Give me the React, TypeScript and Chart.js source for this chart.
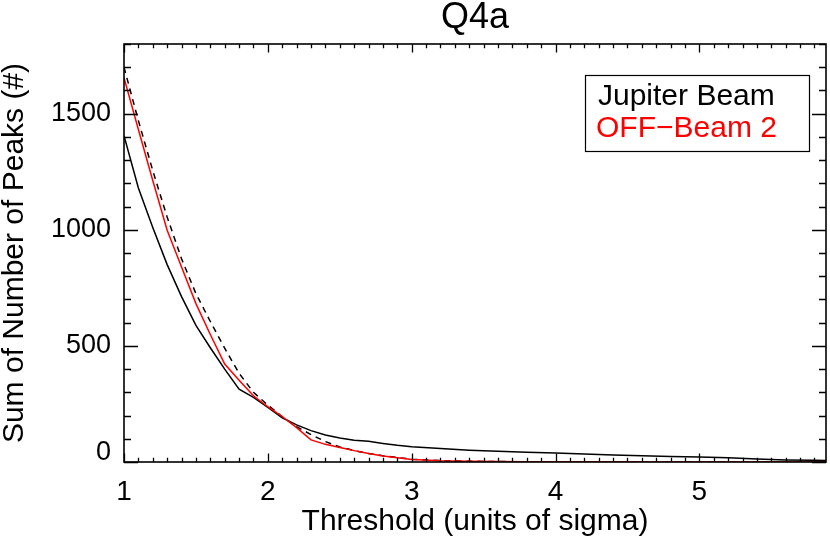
import React, { useEffect, useRef } from 'react';
import { Chart, registerables } from 'chart.js';

Chart.register(...registerables);

// ---------- data ----------
const chartTitle = 'Q4a';
const xAxisTitle = 'Threshold (units of sigma)';
const yAxisTitle = 'Sum of Number of Peaks (#)';

const thresholds = [
  1.0, 1.1, 1.2, 1.3, 1.4, 1.5, 1.6, 1.7, 1.8, 1.9, 2.0,
  2.1, 2.2, 2.3, 2.4, 2.5, 2.6, 2.7, 2.8, 2.9, 3.0,
  3.2, 3.4, 3.6, 3.8, 4.0, 4.2, 4.4, 4.6, 4.8, 5.0,
  5.2, 5.4, 5.6, 5.8, 5.88,
];

const jupiterBeam = [
  1405, 1180, 1010, 850, 712, 588, 492, 400, 314, 278, 235,
  190, 160, 135, 116, 103, 94, 89, 80, 72, 66,
  58, 51, 46, 42, 39, 34, 30, 27, 24, 22,
  18, 13, 9, 7, 6,
];

const offBeam2 = [
  1655, 1432, 1212, 998, 840, 682, 549, 422, 352, 285, 238,
  196, 148, 95, 76, 62, 49, 37, 26, 18, 11,
  5, 3, 2, 1, 1, 1, 1, 0, 0, 0,
  0, 0, 0, 0, 0,
];

const dashedCurve = [
  1700, 1470, 1255, 1055, 875, 725, 605, 490, 382, 300, 245,
  195, 152, 118, 88, 65, 49, 37, 27, 19, 12,
  6, 3, 2, 1, 1, 1, 0, 0, 0, 0,
  0, 0, 0, 0, 0,
];

const xMin = 1;
const xMax = 5.88;
const yMin = 0;
const yMax = 1800;
const xTickValues = [1, 2, 3, 4, 5];
const yTickValues = [0, 500, 1000, 1500];
const xMinorStep = 0.1;
const yMinorStep = 100;

const legendLabels = ['Jupiter Beam', 'OFF\u2212Beam 2'];
const legendColors = ['#000000', '#ff0000'];

const FONT = '"Liberation Sans", Arial, Helvetica, sans-serif';

function toPoints(ys: number[]) {
  return thresholds.map((x, i) => ({ x, y: ys[i] }));
}

// ---------- plugin: frame, inward ticks, title, legend ----------
const idlFramePlugin = {
  id: 'idlFrame',
  afterDraw(chart: any) {
    const { ctx, chartArea } = chart;
    const xs = chart.scales.x;
    const ys = chart.scales.y;
    const { left, right, top, bottom } = chartArea;
    ctx.save();
    ctx.strokeStyle = '#000';
    ctx.lineWidth = 1.6;
    ctx.strokeRect(left, top, right - left, bottom - top);

    ctx.lineWidth = 1.3;
    ctx.beginPath();
    // x ticks (bottom & top), inward
    const nX = Math.round((xMax - xMin) / xMinorStep);
    for (let i = 0; i <= nX; i++) {
      const v = xMin + i * xMinorStep;
      const isMajor = Math.abs(v - Math.round(v)) < 1e-6;
      const len = isMajor ? 8.5 : 4.2;
      const px = Math.round(xs.getPixelForValue(v)) + 0.5;
      if (px > right) continue;
      ctx.moveTo(px, bottom);
      ctx.lineTo(px, bottom - len);
      ctx.moveTo(px, top);
      ctx.lineTo(px, top + len);
    }
    // y ticks (left & right), inward
    const nY = Math.round((yMax - yMin) / yMinorStep);
    for (let i = 0; i <= nY; i++) {
      const v = yMin + i * yMinorStep;
      const isMajor = v % 500 === 0;
      const len = isMajor ? 14 : 7;
      const py = Math.round(ys.getPixelForValue(v)) + 0.5;
      ctx.moveTo(left, py);
      ctx.lineTo(left + len, py);
      ctx.moveTo(right, py);
      ctx.lineTo(right - len, py);
    }
    ctx.stroke();

    // zero label, raised slightly above the bottom axis as in the original
    ctx.fillStyle = '#000';
    ctx.font = `27px ${FONT}`;
    ctx.textAlign = 'right';
    ctx.textBaseline = 'middle';
    ctx.fillText(String(yTickValues[0]), left - 13, ys.getPixelForValue(yTickValues[0]) - 9);

    // title
    ctx.font = `36px ${FONT}`;
    ctx.textAlign = 'center';
    ctx.textBaseline = 'middle';
    ctx.fillText(chartTitle, (left + right) / 2, 18);

    // legend box
    ctx.font = `30px ${FONT}`;
    ctx.lineWidth = 1.2;
    ctx.strokeRect(585.5, 75.5, 224, 76);
    ctx.textAlign = 'left';
    ctx.textBaseline = 'alphabetic';
    ctx.fillStyle = legendColors[0];
    ctx.fillText(legendLabels[0], 598, 105);
    ctx.fillStyle = legendColors[1];
    ctx.fillText(legendLabels[1], 596, 137);
    ctx.restore();
  },
};

export default function App() {
  const canvasRef = useRef<HTMLCanvasElement | null>(null);

  useEffect(() => {
    const canvas = canvasRef.current;
    if (!canvas) return;
    const chart = new Chart(canvas, {
      type: 'line',
      data: {
        datasets: [
          {
            label: legendLabels[1],
            data: toPoints(offBeam2),
            borderColor: '#ff0000',
            borderWidth: 1.5,
            pointRadius: 0,
            tension: 0,
            fill: false,
          },
          {
            label: legendLabels[0],
            data: toPoints(jupiterBeam),
            borderColor: '#000000',
            borderWidth: 1.5,
            pointRadius: 0,
            tension: 0,
            fill: false,
          },
          {
            label: 'dashed',
            data: toPoints(dashedCurve),
            borderColor: '#000000',
            borderWidth: 1.5,
            borderDash: [6, 5],
            pointRadius: 0,
            tension: 0,
            fill: false,
          },
        ],
      },
      options: {
        responsive: false,
        animation: false,
        events: [],
        layout: { padding: { top: 44, right: 4, left: 0, bottom: 0 } },
        plugins: {
          legend: { display: false },
          title: { display: false },
          tooltip: { enabled: false },
        },
        scales: {
          x: {
            type: 'linear',
            min: xMin,
            max: xMax,
            afterFit: (s: any) => { s.height = 80; },
            afterBuildTicks: (s: any) => { s.ticks = xTickValues.map((v) => ({ value: v })); },
            grid: { display: false, drawTicks: false },
            border: { display: false },
            ticks: {
              color: '#000',
              padding: 13,
              maxRotation: 0,
              autoSkip: false,
              font: { family: FONT, size: 28 },
              callback: (v: any) => String(v),
            },
            title: {
              display: true,
              text: xAxisTitle,
              color: '#000',
              font: { family: FONT, size: 30, lineHeight: 1 },
              padding: { top: 0, bottom: 5 },
            },
          },
          y: {
            type: 'linear',
            min: yMin,
            max: yMax,
            afterFit: (s: any) => { s.width = 124; },
            afterBuildTicks: (s: any) => { s.ticks = yTickValues.map((v) => ({ value: v })); },
            grid: { display: false, drawTicks: false },
            border: { display: false },
            ticks: {
              color: '#000',
              padding: 13,
              autoSkip: false,
              font: { family: FONT, size: 27 },
              callback: (v: any) => (v === yTickValues[0] ? '' : String(v)),
            },
            title: {
              display: true,
              text: yAxisTitle,
              color: '#000',
              font: { family: FONT, size: 30, lineHeight: 1 },
              padding: { top: 0, bottom: 0 },
            },
          },
        },
      },
      plugins: [idlFramePlugin],
    } as any);
    return () => chart.destroy();
  }, []);

  return (
    <div style={{ position: 'fixed', left: 0, top: 0, width: 830, height: 542, background: '#fff' }}>
      <canvas ref={canvasRef} width={830} height={542} style={{ display: 'block' }} />
    </div>
  );
}
